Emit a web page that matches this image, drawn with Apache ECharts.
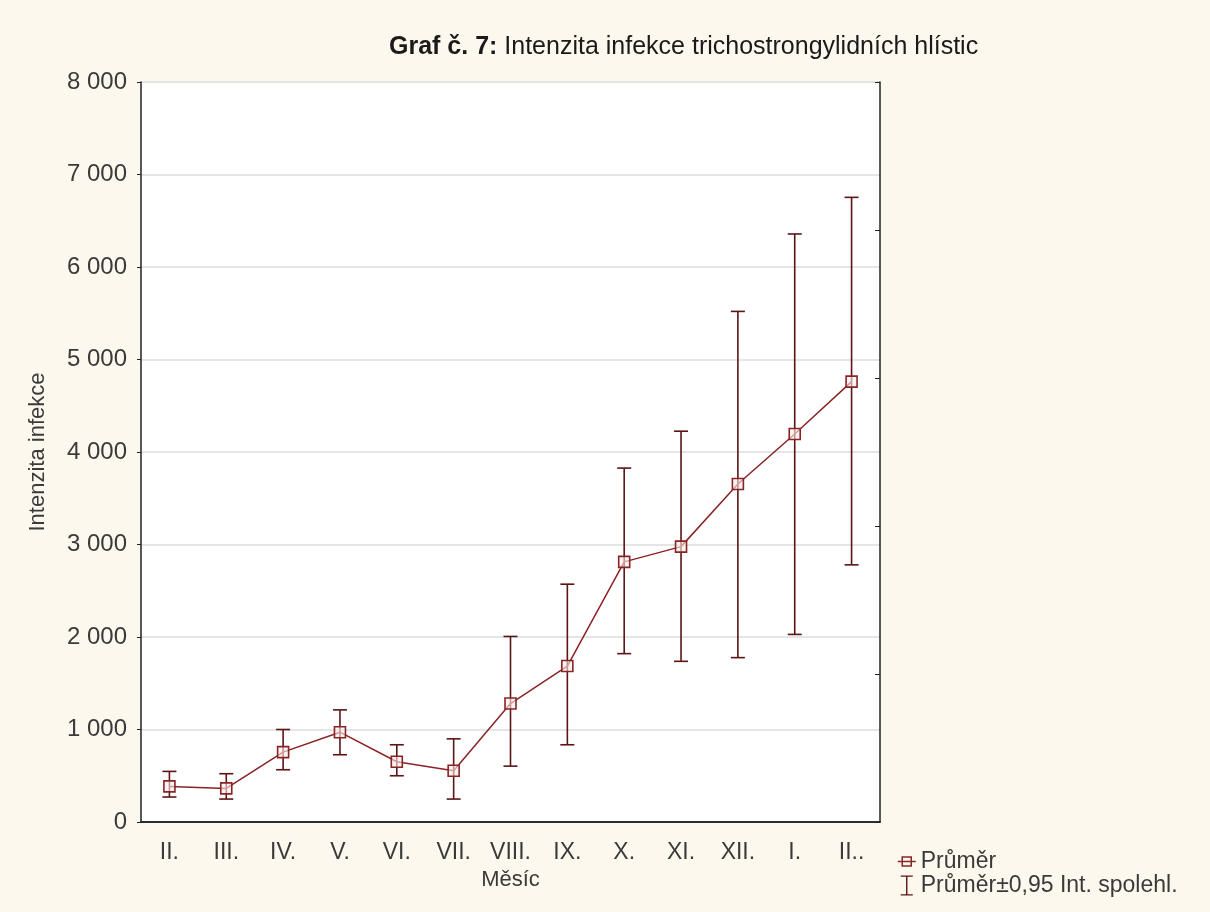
<!DOCTYPE html>
<html>
<head>
<meta charset="utf-8">
<script src="https://cdn.jsdelivr.net/npm/echarts@6/dist/echarts.min.js"></script>
<style>
html,body{margin:0;padding:0;background:#fcf8ee;}
#c{width:1210px;height:912px;}
</style>
</head>
<body>
<div id="c"></div>
<script>
const categories = ['II.','III.','IV.','V.','VI.','VII.','VIII.','IX.','X.','XI.','XII.','I.','II..'];
const means = [385, 363, 755, 971, 651, 554, 1281, 1686, 2812, 2977, 3654, 4195, 4761];
const upper = [547, 522, 1000, 1212, 835, 899, 2006, 2571, 3826, 4225, 5520, 6357, 6753];
const lower = [270, 248, 565, 727, 500, 248, 604, 835, 1820, 1737, 1777, 2028, 2780];
const yTicks = [0, 1000, 2000, 3000, 4000, 5000, 6000, 7000, 8000];

const FONT = '"Liberation Sans", Arial, sans-serif';
const LINE_COLOR = '#8a2424';
const BAR_COLOR = '#5c1414';
const TEXT = '#3a3a3a';

const errData = categories.map((c, i) => [i, lower[i], upper[i]]);

const chart = echarts.init(document.getElementById('c'), null, {renderer: 'canvas'});
chart.setOption({
  backgroundColor: '#fcf8ee',
  animation: false,
  textStyle: {fontFamily: FONT},
  title: {
    text: '{b|Graf č. 7:} Intenzita infekce trichostrongylidních hlístic',
    left: 384, top: 30,
    textStyle: {
      fontFamily: FONT, fontSize: 25, fontWeight: 'normal', color: '#1a1a1a',
      rich: {b: {fontFamily: FONT, fontSize: 25, fontWeight: 'bold', color: '#1a1a1a'}}
    }
  },
  legend: {
    orient: 'vertical',
    left: 892, top: 845,
    itemGap: 1,
    itemWidth: 18, itemHeight: 20,
    textStyle: {fontFamily: FONT, fontSize: 23, color: TEXT},
    data: [
      {name: 'Průměr', icon: 'path://M0,8H16 M4,4H12V12H4Z',
        itemStyle: {color: 'transparent', borderColor: LINE_COLOR, borderWidth: 1.5}},
      {name: 'Průměr±0,95 Int. spolehl.', icon: 'path://M0,0H12V1.3H6.7V18.7H12V20H0V18.7H5.3V1.3H0Z',
        itemStyle: {color: BAR_COLOR, borderWidth: 0}}
    ]
  },
  grid: {left: 141, right: 330, top: 82, bottom: 90, show: true, backgroundColor: '#ffffff', borderWidth: 0},
  xAxis: [{
    type: 'category',
    data: categories,
    boundaryGap: true,
    name: 'Měsíc',
    nameLocation: 'middle',
    nameGap: 38,
    nameTextStyle: {fontFamily: FONT, fontSize: 22, color: TEXT},
    axisLine: {lineStyle: {color: '#222', width: 1.5}},
    axisTick: {alignWithLabel: true, inside: true, length: 5, lineStyle: {color: '#222'}},
    axisLabel: {fontFamily: FONT, fontSize: 23, color: TEXT, margin: 19},
    splitLine: {show: false}
  }, {
    type: 'category',
    data: categories,
    position: 'top',
    boundaryGap: true,
    axisLine: {lineStyle: {color: '#222', width: 1.5}},
    axisTick: {alignWithLabel: true, inside: true, length: 5, lineStyle: {color: '#222'}},
    axisLabel: {show: false},
    splitLine: {show: false}
  }],
  yAxis: [{
    type: 'value',
    min: 0, max: 8000, interval: 1000,
    name: 'Intenzita infekce',
    nameLocation: 'middle',
    nameRotate: 90,
    nameGap: 92,
    nameTextStyle: {fontFamily: FONT, fontSize: 22, color: TEXT},
    axisLine: {show: true, lineStyle: {color: '#222', width: 1.5}},
    axisTick: {show: true, inside: false, length: 4, lineStyle: {color: '#222'}},
    axisLabel: {
      fontFamily: FONT, fontSize: 24, color: TEXT, margin: 14,
      formatter: v => yTicks.includes(v) ? String(v).replace(/\B(?=(\d{3})+(?!\d))/g, ' ') : ''
    },
    splitLine: {show: true, lineStyle: {color: '#dcdcdc', width: 1.5}}
  }, {
    type: 'value',
    position: 'right',
    min: 0, max: 5, interval: 1,
    axisLine: {show: true, lineStyle: {color: '#222', width: 1.5}},
    axisTick: {show: true, inside: true, length: 5, lineStyle: {color: '#222'}},
    axisLabel: {show: false},
    splitLine: {show: false}
  }],
  series: [{
    name: 'Průměr±0,95 Int. spolehl.',
    type: 'custom',
    xAxisIndex: 0, yAxisIndex: 0,
    itemStyle: {color: BAR_COLOR},
    z: 2,
    renderItem: function (params, api) {
      const x = api.value(0);
      const lo = api.coord([x, api.value(1)]);
      const hi = api.coord([x, api.value(2)]);
      const hw = 7;
      const style = {stroke: BAR_COLOR, lineWidth: 1.6, fill: null};
      return {
        type: 'group',
        children: [
          {type: 'line', shape: {x1: lo[0], y1: lo[1], x2: hi[0], y2: hi[1]}, style: style},
          {type: 'line', shape: {x1: hi[0] - hw, y1: hi[1], x2: hi[0] + hw, y2: hi[1]}, style: style},
          {type: 'line', shape: {x1: lo[0] - hw, y1: lo[1], x2: lo[0] + hw, y2: lo[1]}, style: style}
        ]
      };
    },
    encode: {x: 0, y: [1, 2]},
    data: errData
  }, {
    name: 'Průměr',
    type: 'line',
    xAxisIndex: 0, yAxisIndex: 0,
    data: means,
    z: 3,
    symbol: 'rect',
    symbolSize: 11,
    lineStyle: {color: LINE_COLOR, width: 1.5},
    itemStyle: {color: 'rgba(255,235,235,0.6)', borderColor: LINE_COLOR, borderWidth: 1.6}
  }]
});
</script>
</body>
</html>
